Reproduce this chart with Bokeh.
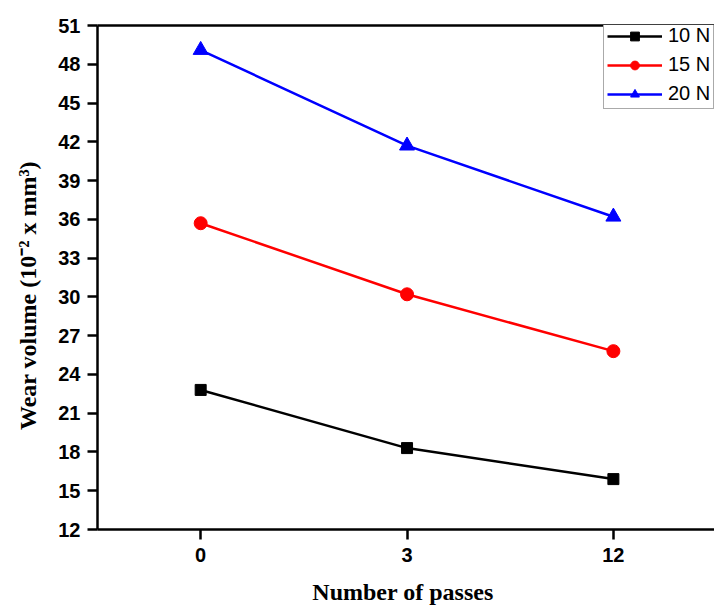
from bokeh.plotting import figure
from bokeh.models import Range1d, FixedTicker, Legend, LegendItem, LinearAxis
from bokeh.embed import file_html
from bokeh.resources import INLINE

passes = ["0", "3", "12"]
wear_10N = [22.8, 18.3, 15.9]
wear_15N = [35.7, 30.2, 25.8]
wear_20N = [49.1, 41.7, 36.2]
y_ticks = list(range(12, 52, 3))

xs = list(range(len(passes)))

p = figure(width=714, height=609, output_backend="svg", toolbar_location=None,
           x_range=Range1d(-0.5, 2.49), y_range=Range1d(12, 51),
           min_border_left=97, min_border_right=0, min_border_top=25, min_border_bottom=80)
p.background_fill_color = "white"
p.border_fill_color = "white"
p.outline_line_color = None
p.xgrid.visible = False
p.ygrid.visible = False

top_axis = LinearAxis(axis_line_width=2.5, axis_line_color="black",
                      major_tick_line_color=None, minor_tick_line_color=None,
                      major_label_text_font_size="0px", major_label_text_alpha=0)
p.add_layout(top_axis, "above")

r1l = p.line(xs, wear_10N, line_color="black", line_width=2.5)
r1m = p.scatter(xs, wear_10N, marker="square", size=11, fill_color="black", line_color="black")
r2l = p.line(xs, wear_15N, line_color="red", line_width=2.5)
r2m = p.scatter(xs, wear_15N, marker="circle", size=13, fill_color="red", line_color="red")
r3l = p.line(xs, wear_20N, line_color="blue", line_width=2.5)
r3m = p.scatter(xs, wear_20N, marker="triangle", size=15, fill_color="blue", line_color="blue")

for ax in (p.below[0], p.left[0]):
    ax.axis_line_width = 2.5
    ax.major_tick_line_width = 2.5
    ax.major_tick_out = 10
    ax.major_tick_in = 0
    ax.minor_tick_out = 0
    ax.minor_tick_in = 0
    ax.major_label_text_font = "Liberation Sans"
    ax.major_label_text_font_style = "bold"
    ax.major_label_text_font_size = "20px"
    ax.major_label_text_color = "black"
    ax.axis_label_text_font = "Liberation Serif"
    ax.axis_label_text_font_style = "bold"
    ax.axis_label_text_font_size = "24px"
    ax.axis_label_text_color = "black"

xa = p.below[0]
xa.ticker = FixedTicker(ticks=xs)
xa.major_label_overrides = {i: s for i, s in enumerate(passes)}
xa.major_label_standoff = 8
xa.axis_label = "Number of passes\u00a0"
xa.axis_label_standoff = 14

ya = p.left[0]
ya.ticker = FixedTicker(ticks=y_ticks)
ya.major_label_standoff = 7
ya.axis_label = "Wear volume (10\u207b\u00b2 x mm\u00b3)" + "\u00a0" * 6
ya.axis_label_standoff = 14

legend = Legend(items=[
    LegendItem(label="10 N", renderers=[r1l, r1m]),
    LegendItem(label="15 N", renderers=[r2l, r2m]),
    LegendItem(label="20 N", renderers=[r3l, r3m]),
], location=(506, 420))
legend.label_text_font = "Liberation Sans"
legend.label_text_font_size = "20px"
legend.label_text_color = "black"
legend.glyph_width = 55
legend.glyph_height = 22
legend.label_standoff = 6
legend.spacing = 6
legend.padding = 3
legend.margin = 0
legend.border_line_color = "#555555"
legend.border_line_width = 1
legend.background_fill_color = "white"
legend.background_fill_alpha = 1
p.add_layout(legend, "center")

open("out.html", "w").write(file_html(p, INLINE))
